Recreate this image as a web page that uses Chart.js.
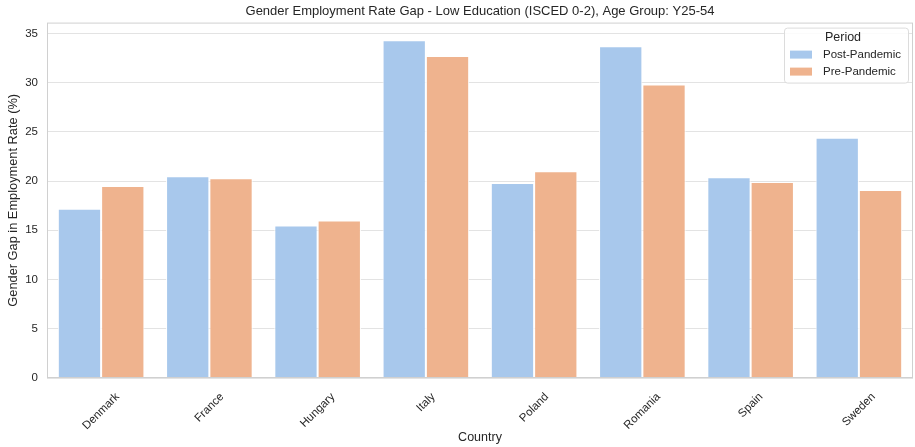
<!DOCTYPE html>
<html>
<head>
<meta charset="utf-8">
<script src="https://cdn.jsdelivr.net/npm/chart.js@4/dist/chart.umd.min.js"></script>
<style>
  html, body { margin: 0; padding: 0; background: #fff; }
  #wrap { width: 915px; height: 447px; }
</style>
</head>
<body>
<div id="wrap"><canvas id="chart" width="915" height="447"></canvas></div>
<script>
// data
const countries = ['Denmark', 'France', 'Hungary', 'Italy', 'Poland', 'Romania', 'Spain', 'Sweden'];
const postPandemic = [17.2, 20.5, 15.5, 34.3, 19.8, 33.7, 20.4, 24.4];
const prePandemic = [19.5, 20.3, 16.0, 32.7, 21.0, 29.8, 19.9, 19.1];
const periods = ['Post-Pandemic', 'Pre-Pandemic'];
const yTicks = [0, 5, 10, 15, 20, 25, 30, 35];

const FONT = '"Liberation Sans", Arial, sans-serif';
const TEXT = '#262626';
const colors = ['#a8c8ec', '#efb38e'];

// frame around the plot area (seaborn whitegrid spines)
const framePlugin = {
    id: 'frame',
    afterDraw(chart) {
        const { ctx, chartArea: a } = chart;
        ctx.save();
        ctx.strokeStyle = '#d0d0d0';
        ctx.lineWidth = 1;
        ctx.strokeRect(a.left + 0.5, a.top + 0.5, a.right - a.left - 1, a.bottom - a.top - 1);
        ctx.restore();
    }
};

// x tick labels rotated 45deg, centred under the tick like matplotlib
const xLabelPlugin = {
    id: 'xLabels',
    afterDraw(chart) {
        const { ctx } = chart;
        const xs = chart.scales.x;
        ctx.save();
        ctx.font = '11.5px ' + FONT;
        ctx.fillStyle = TEXT;
        ctx.textAlign = 'center';
        ctx.textBaseline = 'middle';
        const h = 11;
        countries.forEach((c, i) => {
            const w = ctx.measureText(c).width;
            const box = (w + h) * Math.SQRT1_2;
            const x = xs.getPixelForTick(i);
            const y = chart.chartArea.bottom + 13 + box / 2;
            ctx.save();
            ctx.translate(x, y);
            ctx.rotate(-Math.PI / 4);
            ctx.fillText(c, 0, 0);
            ctx.restore();
        });
        ctx.restore();
    }
};

// legend box in the top right corner
const legendPlugin = {
    id: 'boxLegend',
    afterDraw(chart) {
        const { ctx } = chart;
        const a = chart.chartArea;
        const bx = a.right - 129, by = a.top + 5, bw = 124, bh = 55;
        ctx.save();
        ctx.fillStyle = 'rgba(255,255,255,0.85)';
        ctx.strokeStyle = '#dcdcdc';
        ctx.lineWidth = 1;
        ctx.beginPath();
        ctx.roundRect(bx + 0.5, by + 0.5, bw, bh, 3);
        ctx.fill();
        ctx.stroke();
        ctx.fillStyle = TEXT;
        ctx.textBaseline = 'middle';
        ctx.textAlign = 'center';
        ctx.font = '12.5px ' + FONT;
        ctx.fillText('Period', bx + 59, by + 10);
        ctx.textAlign = 'left';
        ctx.font = '11.5px ' + FONT;
        chart.data.datasets.forEach((ds, i) => {
            const cy = by + 27 + i * 17;
            ctx.fillStyle = ds.backgroundColor;
            ctx.fillRect(bx + 6, cy - 4, 22, 8);
            ctx.fillStyle = TEXT;
            ctx.fillText(ds.label, bx + 39, cy);
        });
        ctx.restore();
    }
};

new Chart(document.getElementById('chart').getContext('2d'), {
    type: 'bar',
    data: {
        labels: countries,
        datasets: [
            { label: periods[0], data: postPandemic, backgroundColor: colors[0] },
            { label: periods[1], data: prePandemic, backgroundColor: colors[1] }
        ]
    },
    options: {
        responsive: false,
        animation: false,
        layout: { padding: { left: 2, right: 2, top: 0, bottom: 2 } },
        datasets: {
            bar: {
                categoryPercentage: 0.8,
                barPercentage: 1.0,
                borderColor: '#ffffff',
                borderWidth: 1,
                borderSkipped: 'bottom'
            }
        },
        plugins: {
            legend: { display: false },
            tooltip: { enabled: false },
            title: {
                display: true,
                text: 'Gender Employment Rate Gap - Low Education (ISCED 0-2), Age Group: Y25-54',
                fullSize: false,
                color: TEXT,
                font: { family: FONT, size: 13, weight: 'normal' },
                padding: { top: 4, bottom: 3 }
            }
        },
        scales: {
            x: {
                grid: { display: false, drawTicks: false },
                border: { display: false },
                ticks: { display: false },
                title: {
                    display: true,
                    text: 'Country',
                    color: TEXT,
                    font: { family: FONT, size: 12.5 },
                    padding: { top: 52, bottom: 0 }
                }
            },
            y: {
                min: 0,
                max: 36.1,
                afterBuildTicks(s) { s.ticks = yTicks.map(v => ({ value: v })); },
                afterFit(s) { s.width = 45; },
                grid: { color: '#e3e3e3', drawTicks: false },
                border: { display: false },
                ticks: {
                    color: TEXT,
                    padding: 9,
                    font: { family: FONT, size: 11.5 }
                },
                title: {
                    display: true,
                    text: 'Gender Gap in Employment Rate (%)',
                    color: TEXT,
                    font: { family: FONT, size: 12.8 },
                    padding: { top: 4, bottom: 0 }
                }
            }
        }
    },
    plugins: [framePlugin, xLabelPlugin, legendPlugin]
});
</script>
</body>
</html>
